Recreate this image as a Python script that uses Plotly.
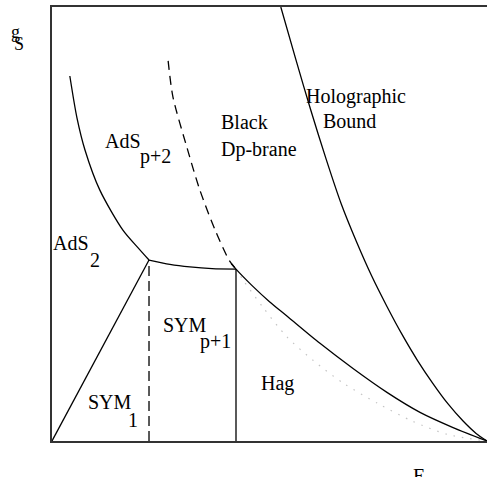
import plotly.graph_objects as go

# Phase diagram: energy E (horizontal) vs string coupling g_s (vertical), arbitrary units 0..100

# AdS_{p+2} / AdS_2 boundary
ads_E = [4.1, 5.75, 7.6, 11.0, 16.3, 19.8, 22.3]
ads_g = [84.1, 74.4, 67.0, 57.8, 48.6, 44.5, 41.7]

# SYM_{p+1} / AdS_{p+2} boundary
top_E = [22.3, 27.1, 31.7, 36.8, 42.3]
top_g = [41.7, 40.7, 40.1, 39.7, 39.6]

# Dashed Black Dp-brane / AdS_{p+2} boundary
bdp_E = [26.7, 27.8, 31.0, 34.0, 37.5, 40.7, 42.3]
bdp_g = [87.6, 79.3, 67.7, 57.8, 48.6, 41.7, 39.6]

# Hagedorn boundary (solid)
hag_E = [41.2, 42.3, 46.0, 50.0, 54.0, 61.6, 69.2, 77.0, 84.6, 92.2, 100.0]
hag_g = [40.9, 39.6, 35.8, 32.1, 28.8, 22.5, 16.7, 11.2, 6.6, 3.1, 0.0]

# Holographic bound
holo_E = [52.6, 56.0, 59.5, 63.0, 66.5, 70.0, 73.5, 77.0, 80.5, 84.0, 87.5, 91.0, 94.5, 97.5, 100.0]
holo_g = [100.0, 88.1, 76.2, 65.0, 54.6, 45.9, 38.0, 31.0, 24.5, 18.6, 13.35, 8.6, 4.6, 1.75, 0.0]

# Faint dotted curve below Hagedorn line
dot_E = [42.3, 44.0, 48.5, 54.0, 60.0, 67.0, 75.0, 83.0, 91.0, 100.0]
dot_g = [39.6, 37.0, 30.8, 24.0, 18.6, 13.3, 8.6, 4.5, 1.5, 0.0]

# SYM_1 / SYM_{p+1}/AdS_2 straight line
sym1_E = [0.0, 22.3]
sym1_g = [0.0, 41.7]

# Vertical boundaries
vdash_E = [22.3, 22.3]
vdash_g = [0.0, 41.7]
vsolid_E = [42.3, 42.3]
vsolid_g = [0.0, 39.6]

fig = go.Figure()
LW = 1.3

def add_line(x, y, dash="solid", color="black", width=LW, spline=True):
    fig.add_trace(go.Scatter(
        x=x, y=y, mode="lines",
        line=dict(color=color, width=width, dash=dash,
                  shape="spline" if spline else "linear", smoothing=0.8),
        hoverinfo="skip", showlegend=False))

add_line(dot_E, dot_g, dash="1.5px,7px", color="#c4c4c4", width=1.2)
add_line(ads_E, ads_g)
add_line(top_E, top_g)
add_line(bdp_E, bdp_g, dash="9px,6px")
add_line(hag_E, hag_g)
add_line(holo_E, holo_g)
add_line(sym1_E, sym1_g, spline=False)
add_line(vdash_E, vdash_g, dash="10px,5px", spline=False)
add_line(vsolid_E, vsolid_g, spline=False)

FONT = "Liberation Serif, Times New Roman, serif"

# (text, x, y, xanchor, size) in paper fractions of the plot area
labels = [
    ("AdS", 0.163, 0.691, "center", 20),
    ("p+2", 0.239, 0.656, "center", 20),
    ("AdS", 0.044, 0.456, "center", 20),
    ("2", 0.099, 0.416, "center", 20),
    ("SYM", 0.133, 0.091, "center", 20),
    ("1", 0.187, 0.048, "center", 20),
    ("SYM", 0.306, 0.267, "center", 20),
    ("p+1", 0.377, 0.230, "center", 20),
    ("Hag", 0.518, 0.133, "center", 20),
    ("Black", 0.384, 0.734, "left", 20),
    ("Dp-brane", 0.384, 0.672, "left", 20),
    ("Holographic", 0.699, 0.794, "center", 20),
    ("Bound", 0.685, 0.737, "center", 20),
    ("E", 0.843, -0.081, "center", 20),
    ("g", -0.085, 0.942, "center", 18),
    ("S", -0.075, 0.915, "center", 18),
]
for text, x, y, xa, size in labels:
    fig.add_annotation(x=x, y=y, xref="paper", yref="paper", text=text, showarrow=False,
                       xanchor=xa, yanchor="middle",
                       font=dict(family=FONT, size=size, color="black"))

fig.update_layout(
    width=487, height=477,
    margin=dict(l=52, r=0, t=7, b=36),
    paper_bgcolor="white", plot_bgcolor="white",
    xaxis=dict(range=[0, 100], showgrid=False, zeroline=False, showticklabels=False,
               ticks="", showline=True, mirror=True, linecolor="#333", linewidth=1.5),
    yaxis=dict(range=[0, 100], showgrid=False, zeroline=False, showticklabels=False,
               ticks="", showline=True, mirror=False, linecolor="#333", linewidth=1.5),
)

fig.write_html("out.html", config={"displayModeBar": False},
               post_script="document.body.style.margin='0';")
